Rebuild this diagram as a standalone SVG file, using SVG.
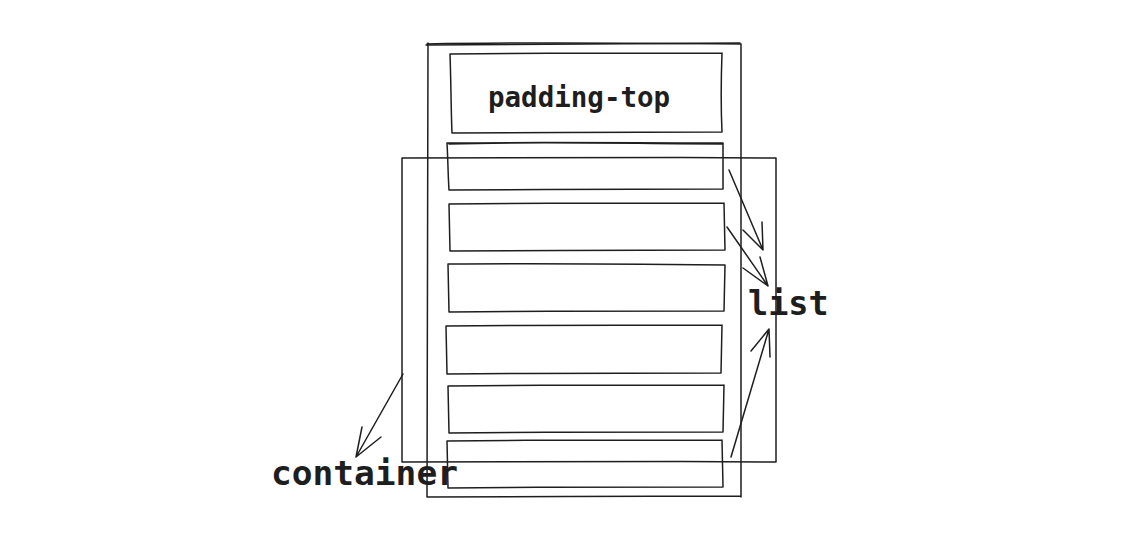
<svg xmlns="http://www.w3.org/2000/svg" width="1147" height="548" viewBox="0 0 1147 548">
<style>
.s{fill:none;stroke:#1e1e1e;stroke-width:1.5;stroke-linecap:round;stroke-linejoin:round}
.t{font-family:"DejaVu Sans Mono","Liberation Mono",monospace;font-weight:bold;fill:#1e1e1e}
</style>
<rect width="1147" height="548" fill="#ffffff"/>
<g id="outer">
<path class="s" d="M427 44 C530 42 640 43 741 44 M428 43 C427 200 428 350 427 497 M741 44 C741 200 742 350 741 497 M427 497 C530 496 640 497 741 496"/>
<path class="s" d="M426 45 L740 43"/>
</g>
<g id="padding-top">
<path class="s" d="M450 54 C540 53 640 53 722 53 M450 54 C451 80 451 110 452 133 M722 53 C721 80 721 110 722 132 M452 133 C540 132 640 133 722 132"/>
<text class="t" x="488" y="107" font-size="27.5">padding-top</text>
</g>
<g id="container">
<path class="s" d="M402 158 C520 157 650 157 776 158 M402 158 L402 462 M776 158 L776 462 M402 462 C520 461 650 461 776 462"/>
</g>
<g id="items">
<path class="s" d="M447 143 C540 142 640 143 723 143 M447 143 C448 160 448 175 449 190 M723 143 L723 189 M449 190 C540 189 640 190 723 189 M449 144 C540 141 640 144 722 144"/>
<path class="s" d="M449 204 C540 203 640 203 724 203 M449 204 L450 251 M724 203 L725 250 M450 251 C540 250 640 251 725 250"/>
<path class="s" d="M448 264 C540 263 640 264 725 265 M448 264 L449 312 M725 265 L724 311 M449 312 C540 311 640 311 724 311"/>
<path class="s" d="M446 326 C540 325 640 325 722 325 M446 326 L447 374 M722 325 L721 373 M447 374 C540 373 640 373 721 373"/>
<path class="s" d="M448 386 C540 385 640 385 724 385 M448 386 L449 433 M724 385 L723 432 M449 433 C540 432 640 432 723 432"/>
<path class="s" d="M447 441 C540 440 640 440 722 440 M447 441 L448 488 M722 440 L723 487 M448 488 C540 487 640 487 723 487"/>
</g>
<g id="labels">
<text class="t" x="748" y="315" font-size="33.5">list</text>
<text class="t" x="271" y="485" font-size="34.5">container</text>
</g>
<g id="connectors">
<path class="s" d="M729 170 L763 250 M762 222 L763 250 M743 230 L763 250"/>
<path class="s" d="M727 227 L768 286 M760 257 L768 286 M743 268 L768 286"/>
<path class="s" d="M731 457 L769 329 M770 357 L769 329 M751 351 L769 329"/>
<path class="s" d="M403 374 L356 457 M362 427 L356 457 M381 437 L356 457"/>
</g>
</svg>
